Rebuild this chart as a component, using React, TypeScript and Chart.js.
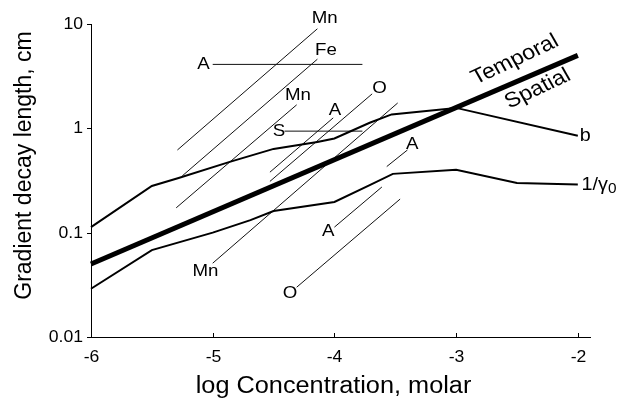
import React, { useEffect, useRef } from "react";
import { Chart, registerables } from "chart.js";
Chart.register(...registerables);

// ---- data ----
const xTicks = [-6, -5, -4, -3, -2];
const yTicks = [0.01, 0.1, 1, 10];
const yTickLabels = ["0.01", "0.1", "1", "10"];
const xTickLabels = ["-6", "-5", "-4", "-3", "-2"];

const boundaryX = [-6, -2];
const boundaryY = [0.05, 5];

const bX = [-6, -5.5, -5.28, -4.86, -4.5, -4.14, -4.0, -3.71, -3.53, -3.0, -2.0];
const bY = [0.113, 0.28, 0.334, 0.477, 0.635, 0.74, 0.8, 1.13, 1.36, 1.57, 0.85];

const gX = [-6, -5.5, -5.0, -4.69, -4.5, -4.0, -3.71, -3.52, -3.0, -2.5, -2.0];
const gY = [0.029, 0.068, 0.1, 0.132, 0.161, 0.197, 0.286, 0.366, 0.4, 0.3, 0.29];

const segX1 = [-5.29, -5.25, -5.3, -5.0, -4.41, -4.53, -4.53, -5.0, -3.57, -4.0, -4.31];
const segY1 = [0.62, 0.35, 0.173, 4.1, 0.94, 0.38, 0.31, 0.051, 0.43, 0.113, 0.03];
const segX2 = [-4.14, -4.14, -4.31, -3.77, -3.77, -4.01, -3.69, -3.48, -3.4, -3.61, -3.46];
const segY2 = [9.0, 4.6, 1.68, 4.1, 0.94, 1.26, 2.14, 1.75, 0.62, 0.274, 0.21];

const labelText = ["Mn", "Fe", "A", "Mn", "S", "A", "O", "A", "A", "Mn", "O"];
const labelX = [-4.08, -4.07, -5.076, -4.3, -4.456, -3.996, -3.63, -3.36, -4.05, -5.06, -4.365];
const labelY = [11.4, 5.65, 4.1, 2.05, 0.94, 1.48, 2.44, 0.71, 0.1026, 0.043, 0.0264];

const curveLabels = ["b", "1/γ", "0"];
const curveLabelX = [-1.984, -1.97];
const curveLabelY = [0.85, 0.286];

const regionLabels = ["Temporal", "Spatial"];
const regionX = [-2.517, -2.33];
const regionY = [4.53, 2.39];

const xTitle = "log Concentration, molar";
const yTitle = "Gradient decay length, cm";

const FONT = "'Liberation Sans', Arial, Helvetica, sans-serif";
const SX = 1.1;

function txt(
  ctx: CanvasRenderingContext2D,
  s: string,
  x: number,
  y: number,
  size: number,
  align: CanvasTextAlign = "center",
  baseline: CanvasTextBaseline = "middle",
  angle = 0,
  sx = SX
) {
  ctx.save();
  ctx.translate(x, y);
  ctx.scale(sx, 1);
  ctx.rotate(angle);
  ctx.font = `${size}px ${FONT}`;
  ctx.textAlign = align;
  ctx.textBaseline = baseline;
  ctx.fillStyle = "#000";
  ctx.fillText(s, 0, 0);
  ctx.restore();
}

const decorPlugin = {
  id: "decor",
  afterDraw(chart: any) {
    const ctx: CanvasRenderingContext2D = chart.ctx;
    const xs = chart.scales.x;
    const ys = chart.scales.y;
    const ca = chart.chartArea;
    ctx.save();
    ctx.strokeStyle = "#000";
    ctx.lineWidth = 1;
    // y ticks (outside, left)
    yTicks.forEach((v, i) => {
      const py = Math.round(ys.getPixelForValue(v)) + 0.5;
      ctx.beginPath();
      ctx.moveTo(ca.left - 4, py);
      ctx.lineTo(ca.left, py);
      ctx.stroke();
      txt(ctx, yTickLabels[i], ca.left - 8, py, 16, "right", "middle");
    });
    // x ticks (inside, up)
    xTicks.forEach((v, i) => {
      const px = Math.round(xs.getPixelForValue(v)) + 0.5;
      ctx.beginPath();
      ctx.moveTo(px, ca.bottom);
      ctx.lineTo(px, ca.bottom - 4);
      ctx.stroke();
      txt(ctx, xTickLabels[i], px, ca.bottom + 21, 16, "center", "middle");
    });
    // axis titles
    txt(ctx, xTitle, (ca.left + ca.right) / 2 - 7, ca.bottom + 56, 23, "center", "alphabetic");
    txt(ctx, yTitle, 25, (ca.top + ca.bottom) / 2 - 15, 23, "center", "middle", -Math.PI / 2, 1);

    // segment labels
    labelText.forEach((s, i) => {
      txt(ctx, s, xs.getPixelForValue(labelX[i]), ys.getPixelForValue(labelY[i]), 17, "center", "middle");
    });
    // curve labels
    txt(ctx, curveLabels[0], xs.getPixelForValue(curveLabelX[0]), ys.getPixelForValue(curveLabelY[0]), 18, "left", "middle");
    const gx = xs.getPixelForValue(curveLabelX[1]);
    const gy = ys.getPixelForValue(curveLabelY[1]);
    txt(ctx, curveLabels[1], gx, gy, 18, "left", "middle");
    ctx.font = `18px ${FONT}`;
    const w = ctx.measureText(curveLabels[1]).width * SX;
    txt(ctx, curveLabels[2], gx + w, gy + 4, 14, "left", "middle");
    // region labels
    const ang = -Math.atan(0.47 * SX);
    regionLabels.forEach((s, i) => {
      txt(ctx, s, xs.getPixelForValue(regionX[i]), ys.getPixelForValue(regionY[i]), 21, "center", "middle", ang);
    });
    ctx.restore();
  },
};

function pts(xa: number[], ya: number[]) {
  return xa.map((x, i) => ({ x, y: ya[i] }));
}

export default function App() {
  const ref = useRef<HTMLCanvasElement>(null);
  useEffect(() => {
    if (!ref.current) return;
    const datasets: any[] = [
      { data: pts(boundaryX, boundaryY), borderColor: "#000", borderWidth: 5, borderCapStyle: "butt" },
      { data: pts(bX, bY), borderColor: "#000", borderWidth: 2 },
      { data: pts(gX, gY), borderColor: "#000", borderWidth: 2 },
    ];
    segX1.forEach((_, i) => {
      datasets.push({
        data: [
          { x: segX1[i], y: segY1[i] },
          { x: segX2[i], y: segY2[i] },
        ],
        borderColor: "#111",
        borderWidth: 1,
      });
    });
    datasets.forEach((d) => {
      d.showLine = true;
      d.pointRadius = 0;
      d.fill = false;
      d.tension = 0;
      d.clip = false;
    });
    const chart = new Chart(ref.current, {
      type: "scatter",
      data: { datasets },
      options: {
        animation: false,
        responsive: false,
        layout: { padding: { top: 24, right: 37, left: 0, bottom: 0 } },
        plugins: { legend: { display: false }, tooltip: { enabled: false } },
        scales: {
          x: {
            type: "linear",
            min: -6,
            max: -1.9,
            grid: { display: false },
            border: { display: true, color: "#000", width: 1 },
            ticks: { display: false },
            afterFit: (s: any) => {
              s.height = 63;
            },
          },
          y: {
            type: "logarithmic",
            min: 0.01,
            max: 10,
            grid: { display: false },
            border: { display: true, color: "#000", width: 1 },
            ticks: { display: false },
            afterFit: (s: any) => {
              s.width = 91;
            },
          },
        },
      },
      plugins: [decorPlugin],
    });
    return () => chart.destroy();
  }, []);
  return (
    <div style={{ position: "fixed", left: 0, top: 0, width: 627, height: 400, background: "#fff" }}>
      <canvas ref={ref} width={627} height={400} style={{ display: "block" }} />
    </div>
  );
}
